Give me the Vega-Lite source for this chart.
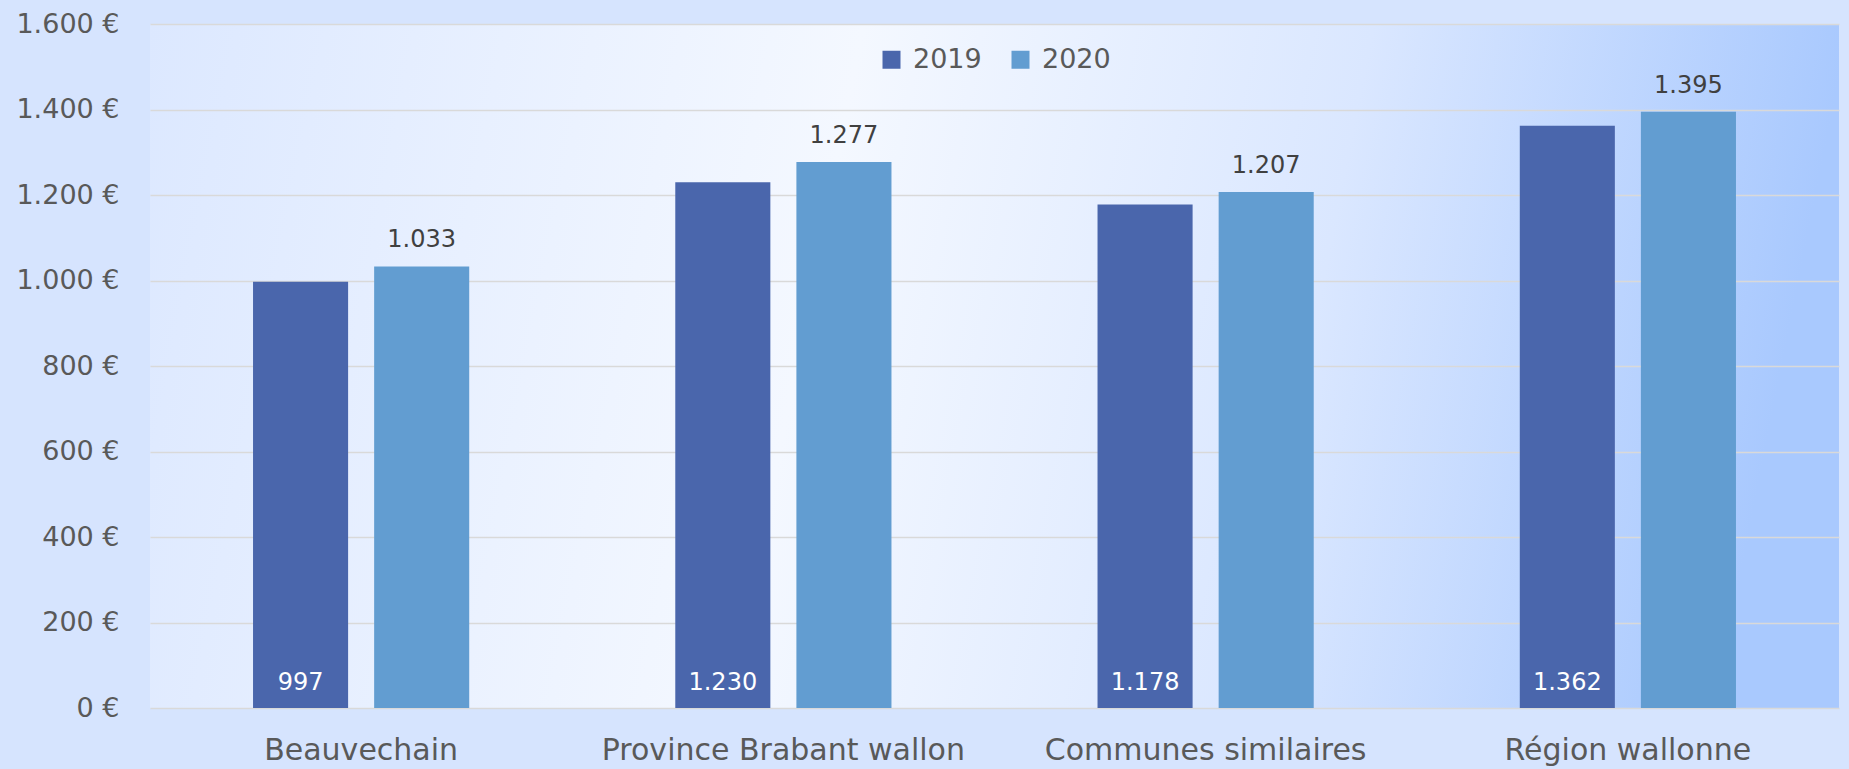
{
  "$schema": "https://vega.github.io/schema/vega-lite/v6.json",
  "width": 1689,
  "height": 684,
  "autosize": {"type": "none"},
  "padding": {"left": 150, "top": 24, "right": 10, "bottom": 61},
  "background": "#D6E4FE",
  "config": {
    "font": "DejaVu Sans",
    "locale": {"number": {"decimal": ",", "thousands": ".", "grouping": [3], "currency": ["", " €"]}},
    "view": {
      "stroke": null,
      "fill": {
        "gradient": "linear", "x1": 0, "y1": 0, "x2": 1, "y2": 0.08,
        "stops": [
          {"offset": 0, "color": "#DCE8FF"},
          {"offset": 0.42, "color": "#F4F8FF"},
          {"offset": 0.72, "color": "#DAE7FF"},
          {"offset": 1, "color": "#A9C9FE"}
        ]
      }
    }
  },
  "data": {
    "values": [
      {"region": "Beauvechain", "year": "2019", "value": 997},
      {"region": "Beauvechain", "year": "2020", "value": 1033},
      {"region": "Province Brabant wallon", "year": "2019", "value": 1230},
      {"region": "Province Brabant wallon", "year": "2020", "value": 1277},
      {"region": "Communes similaires", "year": "2019", "value": 1178},
      {"region": "Communes similaires", "year": "2020", "value": 1207},
      {"region": "Région wallonne", "year": "2019", "value": 1362},
      {"region": "Région wallonne", "year": "2020", "value": 1395}
    ]
  },
  "encoding": {
    "x": {
      "field": "region", "type": "nominal", "sort": null, "title": null,
      "scale": {"paddingInner": 0.488, "paddingOuter": 0.244},
      "axis": {"domain": false, "ticks": false, "labelAngle": 0, "labelFontSize": 30, "labelColor": "#595959", "labelPadding": 27, "labelBaseline": "top", "labelLimit": 0, "labelOverlap": false}
    },
    "xOffset": {"field": "year", "type": "nominal", "scale": {"paddingInner": 0.215, "paddingOuter": 0}},
    "y": {
      "field": "value", "type": "quantitative", "title": null,
      "scale": {"domain": [0, 1600], "nice": false},
      "axis": {"domain": false, "ticks": false, "values": [0,200,400,600,800,1000,1200,1400,1600], "format": "$,d", "labelFontSize": 27, "labelColor": "#595959", "labelPadding": 31, "labelOverlap": false, "labelLimit": 0, "gridColor": "#D9D9D9", "gridWidth": 1.5}
    }
  },
  "layer": [
    {
      "mark": {"type": "bar"},
      "encoding": {
        "color": {
          "field": "year", "type": "nominal",
          "scale": {"domain": ["2019", "2020"], "range": ["#4A66AC", "#629DD1"]},
          "legend": {"title": null, "orient": "none", "legendX": 728, "legendY": 22, "direction": "horizontal", "symbolType": "square", "symbolSize": 324, "symbolStrokeWidth": 0, "labelFontSize": 27, "labelColor": "#595959", "labelOffset": 8, "columnPadding": 25}
        }
      }
    },
    {
      "transform": [{"filter": "datum.year == '2020'"}],
      "mark": {"type": "text", "baseline": "alphabetic", "dy": -19, "fontSize": 24, "color": "#404040"},
      "encoding": {"text": {"field": "value", "type": "quantitative", "format": ",d"}}
    },
    {
      "transform": [{"filter": "datum.year == '2019'"}],
      "mark": {"type": "text", "baseline": "alphabetic", "dy": -18, "fontSize": 24, "color": "#FFFFFF"},
      "encoding": {"y": {"datum": 0}, "text": {"field": "value", "type": "quantitative", "format": ",d"}}
    }
  ]
}
